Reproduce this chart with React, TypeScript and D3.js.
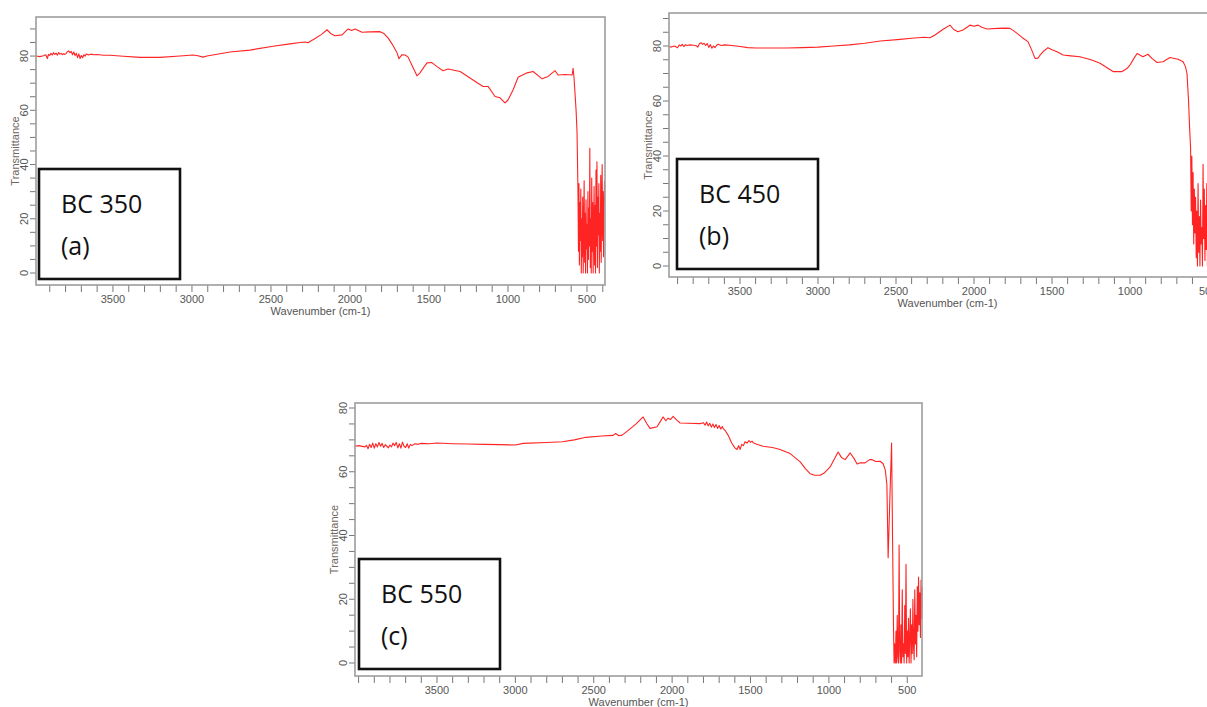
import * as d3 from 'd3'

type Pt = [number, number]

// tick labels shared by the three FTIR panels
const xTickLabels = [3500, 3000, 2500, 2000, 1500, 1000, 500]
const yTickLabels = [0, 20, 40, 60, 80]

// BC 350 — [wavenumber cm-1, transmittance %]
const bc350: Pt[] = [
  [3987, 80.0], [3962, 79.8], [3940, 80.1], [3925, 80.5], [3915, 79.1], [3908, 80.6], [3900, 80.2],
  [3892, 81.0], [3884, 80.4], [3876, 81.2], [3868, 80.6], [3860, 81.1], [3852, 80.3], [3844, 81.3],
  [3836, 80.7], [3828, 81.0], [3820, 80.5], [3812, 80.9], [3804, 80.6], [3796, 81.0], [3788, 81.7],
  [3780, 81.9], [3772, 81.2], [3764, 81.7], [3756, 80.5], [3748, 81.5], [3740, 80.2], [3732, 81.0],
  [3724, 79.4], [3716, 80.8], [3708, 79.1], [3700, 80.2], [3692, 79.4], [3684, 80.5], [3676, 80.0],
  [3668, 80.8], [3656, 80.4], [3640, 80.7], [3620, 80.5], [3600, 80.6], [3560, 80.3], [3519, 80.3],
  [3456, 80.0], [3329, 79.5], [3202, 79.5], [3076, 80.0], [2994, 80.4], [2962, 80.1], [2930, 79.6],
  [2905, 80.0], [2850, 80.6], [2759, 81.5], [2633, 82.2], [2487, 83.6], [2380, 84.5], [2316, 85.0],
  [2285, 85.2], [2266, 84.9], [2221, 86.5], [2180, 88.0], [2145, 89.7], [2120, 88.2], [2095, 87.5],
  [2050, 87.8], [2012, 90.0], [1990, 89.4], [1968, 90.0], [1924, 88.8], [1873, 88.9], [1810, 89.0],
  [1785, 88.3], [1759, 86.7], [1734, 84.5], [1702, 81.2], [1690, 79.0], [1671, 80.5], [1652, 80.4],
  [1633, 79.7], [1607, 76.5], [1576, 72.7], [1557, 73.8], [1531, 76.0], [1512, 77.5], [1481, 77.6],
  [1449, 76.1], [1411, 74.6], [1379, 75.2], [1303, 74.3], [1221, 71.2], [1158, 68.8], [1126, 68.8],
  [1082, 65.1], [1050, 64.6], [1019, 62.7], [1000, 63.8], [968, 67.5], [936, 72.2], [879, 73.8],
  [841, 74.3], [784, 71.6], [746, 72.5], [702, 74.6], [683, 73.0], [639, 73.2], [594, 73.0],
  [588, 75.5], [582, 72.0], [569, 60], [563, 52], [557, 30], [554, 8], [551, 33], [548, 3],
  [545, 26], [542, 12], [539, 31], [536, 0], [533, 20], [530, 6], [527, 28], [524, 0], [521, 15],
  [518, 34], [515, 4], [512, 22], [509, 0], [506, 27], [503, 9], [500, 18], [497, 0], [494, 30],
  [491, 5], [488, 24], [485, 10], [482, 46], [479, 2], [476, 20], [473, 0], [470, 35], [467, 8],
  [464, 26], [461, 0], [458, 16], [455, 32], [452, 3], [449, 25], [446, 0], [443, 38], [440, 10],
  [437, 41], [434, 2], [431, 28], [428, 14], [425, 33], [422, 0], [419, 22], [416, 8], [413, 36],
  [410, 4], [407, 26], [404, 40], [401, 12], [398, 30], [395, 6], [392, 24], [389, 34],
]

// BC 450
const bc450: Pt[] = [
  [3955, 79.8], [3940, 79.6], [3920, 80.0], [3900, 79.4], [3890, 80.4], [3880, 80.0], [3870, 80.6],
  [3860, 79.8], [3850, 80.5], [3840, 80.2], [3820, 80.4], [3800, 80.3], [3780, 80.1], [3770, 79.6],
  [3760, 80.8], [3750, 81.2], [3740, 80.6], [3730, 81.0], [3720, 80.2], [3710, 80.9], [3700, 79.5],
  [3690, 80.5], [3680, 79.2], [3670, 80.0], [3660, 79.4], [3650, 80.3], [3640, 80.6], [3620, 80.2],
  [3600, 80.4], [3550, 80.2], [3500, 79.8], [3450, 79.4], [3400, 79.3], [3300, 79.3], [3200, 79.3],
  [3100, 79.4], [3000, 79.6], [2900, 80.0], [2800, 80.4], [2700, 81.0], [2600, 81.8], [2474, 82.4],
  [2400, 82.8], [2320, 83.2], [2282, 83.0], [2250, 84.0], [2200, 86.0], [2154, 87.6], [2130, 86.0],
  [2103, 85.2], [2071, 85.8], [2040, 87.0], [2026, 87.6], [2000, 87.2], [1974, 87.6], [1950, 86.8],
  [1917, 86.2], [1850, 86.4], [1800, 86.5], [1769, 86.4], [1745, 85.5], [1724, 84.6], [1700, 83.5],
  [1686, 82.8], [1654, 81.6], [1630, 78.5], [1609, 75.5], [1590, 75.6], [1575, 76.8], [1558, 77.9],
  [1526, 79.4], [1500, 78.6], [1468, 77.9], [1429, 76.7], [1380, 76.4], [1321, 76.1], [1250, 75.0],
  [1192, 73.7], [1150, 72.2], [1109, 70.7], [1051, 70.7], [1020, 71.8], [1000, 73.1], [975, 75.5],
  [955, 77.3], [917, 76.1], [885, 77.0], [860, 75.5], [827, 74.0], [789, 74.3], [744, 75.8],
  [692, 75.2], [660, 74.3], [645, 72.5], [635, 70.0], [625, 60], [618, 50], [612, 43], [608, 20],
  [604, 40], [600, 15], [596, 34], [592, 8], [588, 28], [584, 12], [580, 25], [576, 3], [572, 20],
  [568, 0], [564, 30], [560, 5], [556, 18], [552, 0], [548, 24], [544, 8], [540, 14], [536, 0],
  [532, 37], [528, 10], [524, 28], [520, 2], [516, 22], [512, 6], [508, 30], [504, 0], [500, 19],
  [496, 4], [492, 26], [488, 10], [484, 33], [480, 0], [476, 21], [472, 6], [468, 28], [464, 12],
  [460, 24], [456, 0], [452, 30], [448, 8], [444, 18], [440, 2], [436, 26], [432, 10], [428, 34],
  [424, 4], [420, 20], [416, 12], [412, 28], [408, 0], [404, 22], [400, 6], [396, 25], [392, 15],
  [388, 30],
]

// BC 550
const bc550: Pt[] = [
  [4023, 68.0], [4000, 68.2], [3960, 67.8], [3950, 68.3], [3940, 67.2], [3930, 68.6], [3920, 67.6],
  [3910, 69.0], [3900, 67.4], [3890, 68.8], [3880, 67.8], [3870, 69.2], [3860, 68.0], [3850, 68.9],
  [3840, 67.6], [3830, 68.5], [3820, 68.0], [3810, 67.5], [3800, 68.4], [3790, 67.8], [3780, 69.0],
  [3770, 68.2], [3760, 69.2], [3750, 67.5], [3740, 68.8], [3730, 67.4], [3720, 69.3], [3710, 68.0],
  [3700, 67.6], [3690, 68.8], [3680, 67.4], [3670, 68.6], [3660, 68.2], [3640, 68.8], [3620, 68.6],
  [3600, 68.9], [3550, 68.8], [3500, 69.0], [3400, 68.8], [3300, 68.7], [3200, 68.6], [3100, 68.5],
  [3000, 68.4], [2950, 68.9], [2800, 69.2], [2700, 69.4], [2624, 70.0], [2550, 70.8], [2450, 71.2],
  [2377, 71.4], [2360, 72.0], [2340, 71.3], [2319, 71.5], [2280, 73.0], [2230, 75.0], [2185, 77.2],
  [2160, 75.0], [2141, 73.6], [2096, 74.1], [2075, 75.8], [2058, 77.2], [2040, 76.0], [2026, 76.8],
  [2010, 76.4], [1994, 77.4], [1970, 76.2], [1949, 75.3], [1900, 75.2], [1822, 75.1], [1800, 75.4],
  [1790, 74.6], [1780, 75.6], [1770, 74.4], [1760, 75.2], [1750, 74.0], [1740, 75.0], [1730, 73.9],
  [1720, 74.8], [1710, 73.6], [1700, 74.5], [1690, 73.4], [1680, 74.2], [1675, 73.6], [1660, 72.8],
  [1643, 71.5], [1620, 69.0], [1600, 67.5], [1586, 67.0], [1576, 68.2], [1566, 67.0], [1556, 68.6],
  [1545, 68.2], [1535, 69.4], [1522, 69.0], [1510, 69.8], [1500, 69.2], [1490, 69.6], [1483, 69.1],
  [1460, 68.6], [1420, 68.0], [1360, 67.6], [1311, 67.0], [1247, 65.7], [1183, 63.1], [1150, 61.0],
  [1120, 59.4], [1090, 58.9], [1056, 58.9], [1030, 59.6], [992, 61.5], [965, 64.0], [941, 66.2],
  [920, 64.5], [896, 63.8], [864, 65.9], [840, 64.2], [820, 62.4], [800, 62.8], [769, 62.8],
  [740, 63.8], [724, 63.8], [700, 63.2], [673, 63.3], [654, 62.5], [640, 60.5], [630, 56],
  [622, 33], [612, 50], [600, 69], [594, 40], [588, 12], [584, 0], [580, 6], [576, 0], [572, 10],
  [568, 0], [564, 15], [560, 2], [556, 0], [552, 37], [548, 4], [544, 0], [540, 12], [536, 0],
  [532, 23], [528, 2], [524, 6], [520, 0], [516, 18], [512, 3], [508, 31], [504, 0], [500, 10],
  [496, 2], [492, 14], [488, 0], [484, 8], [480, 17], [476, 0], [472, 12], [468, 3], [464, 20],
  [460, 5], [456, 1], [452, 23], [448, 6], [444, 15], [440, 2], [436, 24], [432, 10], [428, 27],
  [424, 12], [420, 22], [416, 8], [412, 26], [408, 14], [406, 24],
]

const panels = [
  { data: bc350, name: 'BC 350', tag: '(a)', left: 36, right: 605, top: 17, bottom: 285,
    wn: [3987, 386], tr: [-4.42, 94.4], box: [39, 169] },
  { data: bc450, name: 'BC 450', tag: '(b)', left: 669, right: 1226, top: 13, bottom: 277,
    wn: [3955, 385], tr: [-4.0, 92.0], box: [677, 159] },
  { data: bc550, name: 'BC 550', tag: '(c)', left: 355, right: 922, top: 403, bottom: 676,
    wn: [4023, 406], tr: [-4.08, 81.57], box: [359, 559] },
]

const axisFont = "'Liberation Sans', Arial, sans-serif"
const axisInk = '#555'
const frameInk = '#9d9d9d'

function Panel({ p }: { p: typeof panels[number] }) {
  const x = d3.scaleLinear().domain(p.wn).range([p.left, p.right])
  const y = d3.scaleLinear().domain(p.tr).range([p.bottom, p.top])
  const line = d3.line<Pt>().x(d => x(d[0])).y(d => y(d[1]))

  const xMinor = d3.range(Math.ceil(p.wn[1] / 100) * 100, p.wn[0], 100)
  const yMinor = d3.range(0, p.tr[1], 5)
  const [bx, by] = p.box

  return (
    <g>
      {/* ticks */}
      {xMinor.map(v => (
        <line key={'x' + v} x1={x(v)} x2={x(v)} y1={p.bottom} y2={p.bottom + 7} stroke="#777" strokeWidth={1} />
      ))}
      {yMinor.map(v => (
        <line key={'y' + v} x1={p.left - 6} x2={p.left} y1={y(v)} y2={y(v)} stroke="#777" strokeWidth={1} />
      ))}
      {xTickLabels.map(v => (
        <text key={'xl' + v} x={x(v)} y={p.bottom + 18} textAnchor="middle"
          fontFamily={axisFont} fontSize={11} fill={axisInk}>{v}</text>
      ))}
      {yTickLabels.map(v => (
        <text key={'yl' + v} transform={`translate(${p.left - 8},${y(v)}) rotate(-90)`} textAnchor="middle"
          fontFamily={axisFont} fontSize={11} fill={axisInk}>{v}</text>
      ))}
      <text x={(p.left + p.right) / 2} y={p.bottom + 30} textAnchor="middle"
        fontFamily={axisFont} fontSize={11} fill={axisInk}>Wavenumber (cm-1)</text>
      <text transform={`translate(${p.left - 17},${(p.top + p.bottom) / 2}) rotate(-90)`} textAnchor="middle"
        fontFamily={axisFont} fontSize={11} fill="#6e6660">Transmittance</text>

      <path d={line(p.data) ?? ''} fill="none" stroke="#ff2424" strokeWidth={1.1} strokeLinejoin="round" />

      <rect x={p.left} y={p.top} width={p.right - p.left} height={p.bottom - p.top}
        fill="none" stroke={frameInk} strokeWidth={1.6} />

      {/* sample label box */}
      <rect x={bx} y={by} width={141} height={110} fill="#fff" stroke="#111" strokeWidth={2.6} />
      <text x={bx + 22} y={by + 44} fontFamily="'Open Sans', sans-serif" fontSize={25} fill="#111">{p.name}</text>
      <text x={bx + 22} y={by + 86} fontFamily="'Open Sans', sans-serif" fontSize={25} fill="#111">{p.tag}</text>
    </g>
  )
}

export default function App() {
  return (
    <svg width={1207} height={707} style={{ position: 'absolute', left: 0, top: 0, background: '#fff' }}>
      {panels.map(p => <Panel key={p.name} p={p} />)}
    </svg>
  )
}
